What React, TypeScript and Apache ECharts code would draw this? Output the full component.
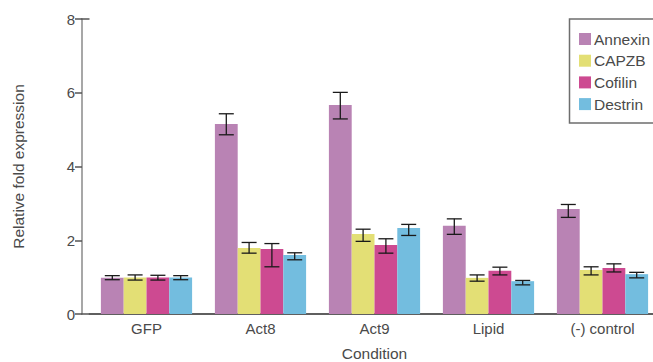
import React, { useEffect, useRef } from "react";
import * as echarts from "echarts";

const categories = ["GFP", "Act8", "Act9", "Lipid", "(-) control"];
const seriesNames = ["Annexin", "CAPZB", "Cofilin", "Destrin"];
const colors = ["#b983b4", "#e3df75", "#cd4a91", "#73bddf"];

const annexin = [0.98, 5.15, 5.67, 2.39, 2.85];
const capzb = [0.99, 1.79, 2.17, 0.98, 1.19];
const cofilin = [0.99, 1.76, 1.87, 1.17, 1.25];
const destrin = [0.99, 1.6, 2.33, 0.89, 1.08];

const annexinLow = [0.93, 4.86, 5.29, 2.16, 2.62];
const annexinHigh = [1.04, 5.43, 6.01, 2.58, 2.97];
const capzbLow = [0.92, 1.65, 1.97, 0.89, 1.06];
const capzbHigh = [1.06, 1.94, 2.3, 1.06, 1.28];
const cofilinLow = [0.92, 1.28, 1.65, 1.06, 1.14];
const cofilinHigh = [1.05, 1.91, 2.04, 1.27, 1.36];
const destrinLow = [0.93, 1.47, 2.13, 0.79, 0.98];
const destrinHigh = [1.04, 1.66, 2.43, 0.91, 1.13];

const yTicks = [0, 2, 4, 6, 8];

const values = [annexin, capzb, cofilin, destrin];
const lows = [annexinLow, capzbLow, cofilinLow, destrinLow];
const highs = [annexinHigh, capzbHigh, cofilinHigh, destrinHigh];

const FONT = "'Liberation Sans', Arial, sans-serif";
const TEXT = "#4a4a4a";

export default function App() {
  const ref = useRef<HTMLDivElement>(null);
  useEffect(() => {
    if (!ref.current) return;
    const chart = echarts.init(ref.current, null, { renderer: "svg" });
    const errData: number[][] = [];
    for (let s = 0; s < 4; s++) {
      for (let c = 0; c < categories.length; c++) {
        errData.push([c, lows[s][c], highs[s][c], s]);
      }
    }
    const nSeries = seriesNames.length;
    const catGap = 0.2;
    chart.setOption({
      animation: false,
      textStyle: { fontFamily: FONT },
      grid: {
        left: 89.5,
        top: 19,
        bottom: 48,
        width: 570,
        containLabel: false,
        outerBoundsMode: "none",
      },
      graphic: [
        {
          type: "polyline",
          z: 91,
          shape: { points: [[660, 19], [569.5, 19], [569.5, 123], [660, 123]] },
          style: { fill: "none", stroke: "#6e6e6e", lineWidth: 1.5 },
        },
      ],
      legend: {
        data: seriesNames,
        orient: "vertical",
        left: 569,
        top: 19,
        z: 100,
        itemWidth: 12,
        itemHeight: 12,
        itemGap: 5.7,
        icon: "rect",
        padding: [12, 0, 11, 10],
        borderWidth: 0,
        textStyle: { fontFamily: FONT, fontSize: 15.5, color: TEXT, lineHeight: 16, padding: [0, 0, 0, -2] },
      },
      xAxis: [
        {
          type: "category",
          data: categories,
          position: "bottom",
          axisLine: { lineStyle: { color: "#555", width: 1.5 } },
          axisTick: { show: false },
          axisLabel: { fontFamily: FONT, fontSize: 15, color: TEXT, margin: 7 },
          name: "Condition",
          nameLocation: "middle",
          nameGap: 31,
          nameTextStyle: { fontFamily: FONT, fontSize: 15.5, color: TEXT },
        },
        {
          type: "category",
          data: categories,
          position: "top",
          axisLine: { lineStyle: { color: "#555", width: 1.5 } },
          axisTick: { show: false },
          axisLabel: { show: false },
        },
      ],
      yAxis: [
        {
          type: "value",
          min: 0,
          max: 8,
          interval: 2,
          offset: 7.5,
          axisLine: { show: true, lineStyle: { color: "#8a8a8a", width: 1.5 } },
          axisTick: { show: true, length: 7, lineStyle: { color: "#555", width: 1.5 } },
          splitLine: { show: false },
          axisLabel: {
            fontFamily: FONT,
            fontSize: 15,
            color: TEXT,
            margin: 7,
            formatter: (v: number) => (yTicks.includes(v) ? String(v) : ""),
          },
          name: "Relative fold expression",
          nameLocation: "middle",
          nameRotate: 90,
          nameGap: 56,
          nameTextStyle: { fontFamily: FONT, fontSize: 15.5, color: TEXT },
        },
        {
          type: "value",
          min: 0,
          max: 8,
          interval: 8,
          position: "left",
          offset: 0,
          axisLine: { show: false },
          axisTick: { show: true, length: 8, lineStyle: { color: "#555", width: 1.5 } },
          axisLabel: { show: false },
          splitLine: { show: false },
        },
      ],
      series: [
        ...seriesNames.map((name, i) => ({
          name,
          type: "bar",
          data: values[i],
          xAxisIndex: 0,
          yAxisIndex: 0,
          barGap: "0%",
          barCategoryGap: "20%",
          itemStyle: { color: colors[i] },
          emphasis: { disabled: true },
        })),
        {
          type: "custom",
          name: "err",
          xAxisIndex: 0,
          yAxisIndex: 0,
          data: errData,
          z: 10,
          renderItem: (params: any, api: any) => {
            const c = api.value(0);
            const lo = api.value(1);
            const hi = api.value(2);
            const s = api.value(3);
            const band = api.size([1, 0])[0];
            const bw = (band * (1 - catGap)) / nSeries;
            const center = api.coord([c, 0])[0];
            const x = center - (band * (1 - catGap)) / 2 + bw * (s + 0.5);
            const yLo = api.coord([c, lo])[1];
            const yHi = api.coord([c, hi])[1];
            const half = 7.5;
            const style = { stroke: "#1a1a1a", lineWidth: 1.3 };
            return {
              type: "group",
              children: [
                { type: "line", shape: { x1: x, y1: yLo, x2: x, y2: yHi }, style },
                { type: "line", shape: { x1: x - half, y1: yLo, x2: x + half, y2: yLo }, style },
                { type: "line", shape: { x1: x - half, y1: yHi, x2: x + half, y2: yHi }, style },
              ],
            };
          },
        },
      ],
    });
    return () => chart.dispose();
  }, []);
  return (
    <div
      ref={ref}
      style={{ position: "fixed", left: 0, top: 0, width: 653, height: 362, background: "#fff" }}
    />
  );
}
